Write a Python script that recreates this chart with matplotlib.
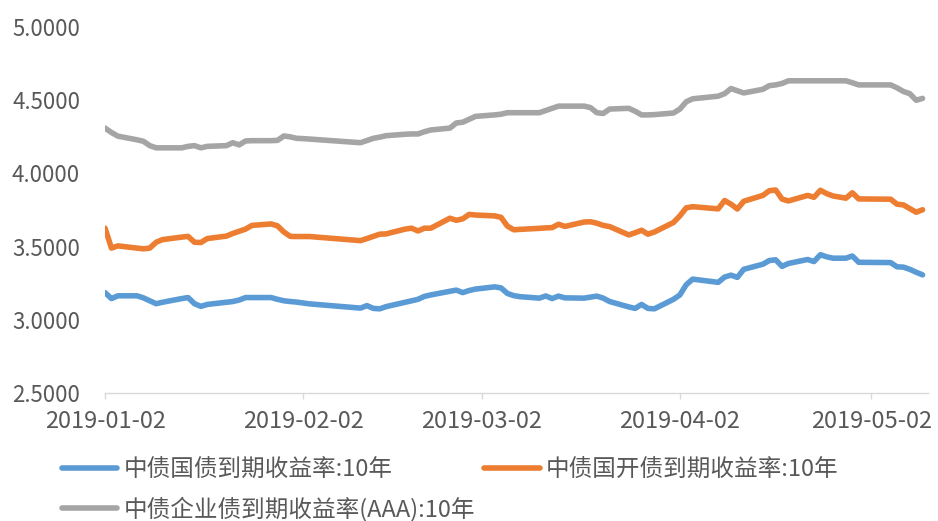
import matplotlib
matplotlib.use("Agg")
import matplotlib.pyplot as plt
import matplotlib.dates as mdates
import pandas as pd

plt.rcParams["font.family"] = ["Noto Sans CJK SC", "DejaVu Sans"]

# trading days (date axis, gaps are holidays)
dates = [
    "2019-01-02", "2019-01-03", "2019-01-04", "2019-01-07", "2019-01-08", "2019-01-09",
    "2019-01-10", "2019-01-11", "2019-01-14", "2019-01-15", "2019-01-16", "2019-01-17",
    "2019-01-18", "2019-01-21", "2019-01-22", "2019-01-23", "2019-01-24", "2019-01-25",
    "2019-01-28", "2019-01-29", "2019-01-30", "2019-01-31",
    "2019-02-01", "2019-02-02", "2019-02-03", "2019-02-11", "2019-02-12", "2019-02-13",
    "2019-02-14", "2019-02-15", "2019-02-18", "2019-02-19", "2019-02-20", "2019-02-21",
    "2019-02-22", "2019-02-25", "2019-02-26", "2019-02-27", "2019-02-28",
    "2019-03-01", "2019-03-04", "2019-03-05", "2019-03-06", "2019-03-07", "2019-03-08",
    "2019-03-11", "2019-03-12", "2019-03-13", "2019-03-14", "2019-03-15", "2019-03-18",
    "2019-03-19", "2019-03-20", "2019-03-21", "2019-03-22", "2019-03-25", "2019-03-26",
    "2019-03-27", "2019-03-28", "2019-03-29",
    "2019-04-01", "2019-04-02", "2019-04-03", "2019-04-04", "2019-04-08", "2019-04-09",
    "2019-04-10", "2019-04-11", "2019-04-12", "2019-04-15", "2019-04-16", "2019-04-17",
    "2019-04-18", "2019-04-19", "2019-04-22", "2019-04-23", "2019-04-24", "2019-04-25",
    "2019-04-26", "2019-04-28", "2019-04-29", "2019-04-30",
    "2019-05-05", "2019-05-06", "2019-05-07", "2019-05-08", "2019-05-09", "2019-05-10",
]

govt_10y = [
    3.186, 3.145, 3.164, 3.164, 3.150, 3.130, 3.110, 3.120, 3.145, 3.152, 3.110, 3.092,
    3.105, 3.120, 3.125, 3.135, 3.152, 3.152, 3.152, 3.140, 3.130, 3.125,
    3.121, 3.115, 3.109, 3.080, 3.097, 3.078, 3.075, 3.090, 3.120, 3.130, 3.140, 3.160,
    3.170, 3.195, 3.203, 3.186, 3.200,
    3.210, 3.225, 3.218, 3.180, 3.165, 3.158, 3.148, 3.163, 3.145, 3.162, 3.150, 3.148,
    3.155, 3.162, 3.148, 3.125, 3.088, 3.078, 3.105, 3.078, 3.075,
    3.140, 3.170, 3.240, 3.278, 3.256, 3.292, 3.305, 3.290, 3.345, 3.380, 3.405, 3.410,
    3.365, 3.385, 3.412, 3.398, 3.445, 3.430, 3.421, 3.421, 3.436, 3.393,
    3.391, 3.362, 3.360, 3.345, 3.325, 3.307,
]

cdb_10y = [
    3.626, 3.490, 3.505, 3.490, 3.485, 3.490, 3.530, 3.548, 3.565, 3.570, 3.530, 3.528,
    3.555, 3.572, 3.590, 3.605, 3.620, 3.645, 3.655, 3.642, 3.600, 3.570,
    3.569, 3.569, 3.569, 3.541, 3.555, 3.570, 3.585, 3.587, 3.620, 3.626, 3.607, 3.626,
    3.626, 3.694, 3.680, 3.690, 3.720,
    3.716, 3.710, 3.700, 3.640, 3.615, 3.618, 3.625, 3.628, 3.630, 3.653, 3.638, 3.668,
    3.670, 3.660, 3.645, 3.637, 3.580, 3.595, 3.612, 3.585, 3.600,
    3.665, 3.710, 3.765, 3.773, 3.758, 3.815, 3.790, 3.757, 3.810, 3.850, 3.882, 3.887,
    3.825, 3.812, 3.850, 3.837, 3.885, 3.862, 3.846, 3.831, 3.868, 3.826,
    3.824, 3.790, 3.785, 3.760, 3.735, 3.752,
]

corp_aaa_10y = [
    4.310, 4.280, 4.255, 4.230, 4.220, 4.190, 4.175, 4.175, 4.175, 4.185, 4.190, 4.175,
    4.185, 4.190, 4.210, 4.195, 4.222, 4.224, 4.224, 4.226, 4.256, 4.250,
    4.240, 4.238, 4.235, 4.210, 4.225, 4.240, 4.248, 4.258, 4.268, 4.270, 4.270, 4.285,
    4.297, 4.310, 4.345, 4.350, 4.370,
    4.390, 4.400, 4.405, 4.415, 4.415, 4.415, 4.415, 4.430, 4.445, 4.460, 4.460, 4.460,
    4.450, 4.415, 4.410, 4.440, 4.445, 4.425, 4.400, 4.400, 4.402,
    4.413, 4.440, 4.490, 4.510, 4.528, 4.545, 4.580, 4.565, 4.550, 4.575, 4.600, 4.605,
    4.615, 4.633, 4.633, 4.633, 4.633, 4.633, 4.633, 4.633, 4.620, 4.605,
    4.605, 4.585, 4.560, 4.545, 4.500, 4.513,
]

labels = ["中债国债到期收益率:10年", "中债国开债到期收益率:10年", "中债企业债到期收益率(AAA):10年"]
colors = ["#5B9BD5", "#ED7D31", "#A5A5A5"]
tick_dates = ["2019-01-02", "2019-02-02", "2019-03-02", "2019-04-02", "2019-05-02"]

x = pd.to_datetime(dates)
text_color = "#595959"

fig = plt.figure(figsize=(9.38, 5.21), dpi=100)
ax = fig.add_axes([0.112, 0.2457, 0.877, 0.7023])

handles = []
for series, label, color in zip([govt_10y, cdb_10y, corp_aaa_10y], labels, colors):
    (h,) = ax.plot(x, series, color=color, lw=4, label=label,
                   solid_joinstyle="round", solid_capstyle="round")
    handles.append(h)

ax.set_ylim(2.5, 5.0)
ax.set_yticks([2.5, 3.0, 3.5, 4.0, 4.5, 5.0])
ax.yaxis.set_major_formatter(plt.FuncFormatter(lambda v, p: f"{v:.4f}"))

x0 = pd.Timestamp("2019-01-02")
ax.set_xlim(x0, x0 + pd.Timedelta(days=128.8))
ax.set_xticks(pd.to_datetime(tick_dates))
ax.xaxis.set_major_formatter(mdates.DateFormatter("%Y-%m-%d"))

for side in ["top", "right", "left"]:
    ax.spines[side].set_visible(False)
ax.spines["bottom"].set_color("#D9D9D9")
ax.spines["bottom"].set_linewidth(1.0)

ax.tick_params(axis="y", length=0, pad=18, labelsize=16, labelcolor=text_color)
ax.tick_params(axis="x", length=4, width=1, color="#D9D9D9", pad=8,
               labelsize=17, labelcolor=text_color)

# column-first fill: blue + gray in first column, orange in second
leg = fig.legend([handles[0], handles[2], handles[1]],
                 [labels[0], labels[2], labels[1]],
                 ncol=2, loc="upper left", bbox_to_anchor=(0.066, 0.12),
                 frameon=False, fontsize=17, handlelength=2.35, handletextpad=0.25,
                 columnspacing=0.4, labelspacing=0.62, borderpad=0, borderaxespad=0)
for t in leg.get_texts():
    t.set_color(text_color)

fig.savefig("out.png", dpi=100)
